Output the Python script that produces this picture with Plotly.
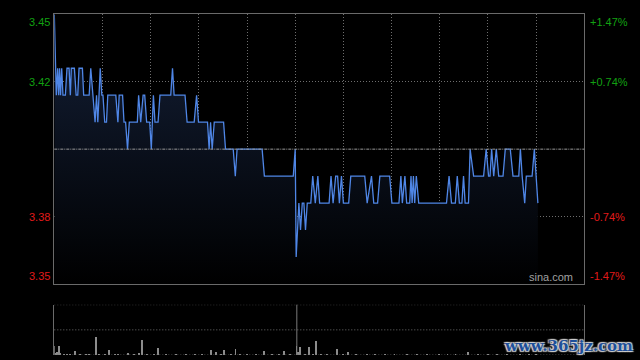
import plotly.graph_objects as go

# ---------------- data ----------------
prev_close = 3.40

# minutes since 09:30 (lunch break removed), intraday price vertices
t_min = [0, 1.25, 2.1, 2.7, 3.3, 3.9, 4.6, 5.4, 6.9, 7.9, 9.2, 10, 10.6, 12.5, 13.6, 14.6,
         15.4, 17.5, 18.3, 21.7, 22.7, 23.9, 25.4, 26.3, 27.1, 28.6, 29.6, 30.3, 31.4, 32.5,
         33.3, 38.3, 39.6, 40.4, 42.5, 43.4, 44.4, 45.6, 46.7, 51.7, 52.5, 53.8, 55.3, 56.3,
         57.5, 59.4, 60.4, 61.7, 62.7, 64.6, 65.8, 72.5, 73.6, 74.6, 81.4, 82.7, 87.1, 88.6,
         89.8, 95.4, 96.4, 97.3, 98.3, 99.6, 105.4, 106.6, 111.4, 112.7, 113.8, 129.4, 130.8,
         148.8, 150,
         150.6, 152.3, 153.3, 154.4, 155.4, 156.4, 157.5, 159.7, 160.9, 162.5, 164.1, 165.2,
         171.1, 172.3, 173.6, 175.2, 176.4, 177.5, 178.8, 180, 183.3, 184.6, 193.3, 194.8,
         197.5, 198.9, 201.3, 202.7, 208.8, 210.2, 214.6, 215.8, 216.7, 218.3, 219.4, 221.3,
         222.1, 222.8, 223.6, 224.4, 225.4, 226.9, 244.2, 245.8, 247.3, 249.7, 250.9, 252.2,
         253.8, 254.8, 255.8, 257.9, 258.9, 261.1, 267.3, 268.9, 270.4, 271.3, 272.3, 273.6,
         275.2, 276.7, 279.4, 280.8, 283.9, 285.6, 289.2, 290.2, 291.3, 292.9, 293.9, 297.5,
         298.9, 301.1]
price = [3.45, 3.42, 3.43, 3.42, 3.43, 3.42, 3.43, 3.42, 3.42, 3.43, 3.43, 3.42, 3.43, 3.43, 3.42, 3.42,
         3.43, 3.43, 3.42, 3.42, 3.43, 3.42, 3.41, 3.42, 3.41, 3.43, 3.42, 3.42, 3.41, 3.41,
         3.42, 3.42, 3.41, 3.42, 3.42, 3.41, 3.41, 3.40, 3.41, 3.41, 3.42, 3.41, 3.42, 3.42,
         3.41, 3.41, 3.40, 3.42, 3.41, 3.41, 3.42, 3.42, 3.43, 3.42, 3.42, 3.41, 3.41, 3.42,
         3.41, 3.41, 3.40, 3.41, 3.40, 3.41, 3.41, 3.40, 3.40, 3.39, 3.40, 3.40, 3.39,
         3.39, 3.40,
         3.36, 3.38, 3.37, 3.38, 3.38, 3.37, 3.38, 3.38, 3.39, 3.38, 3.39, 3.38,
         3.38, 3.39, 3.38, 3.39, 3.39, 3.38, 3.39, 3.38, 3.38, 3.39, 3.39, 3.38,
         3.39, 3.38, 3.38, 3.39, 3.39, 3.38, 3.38, 3.39, 3.38, 3.39, 3.38, 3.38,
         3.39, 3.38, 3.39, 3.38, 3.39, 3.38, 3.38, 3.39, 3.38, 3.38, 3.39, 3.38,
         3.38, 3.39, 3.38, 3.38, 3.40, 3.39, 3.39, 3.40, 3.39, 3.39, 3.40, 3.39,
         3.40, 3.39, 3.39, 3.40, 3.40, 3.39, 3.39, 3.40, 3.39, 3.38, 3.39, 3.39,
         3.40, 3.38]

# volume (relative units) at minutes
vol_t = [0, 1, 2, 3, 4, 6, 8, 10, 13, 16, 20, 22, 26, 28, 32, 34, 38, 40, 46, 50, 53, 55, 58,
         62, 65, 70, 76, 82, 88, 92, 98, 101, 104, 106, 110, 113, 116, 120, 126, 131, 136, 140,
         143, 147, 151, 152, 153, 156, 159, 161, 163, 166, 170, 176, 180, 183, 188, 195, 200,
         206, 212, 220, 226, 232, 240, 245, 250, 258, 264, 270, 276, 282, 290, 296, 300]
vol = [18, 4, 6, 18, 4, 2, 2, 2, 8, 3, 2, 2, 36, 3, 2, 10, 3, 3, 4, 3, 4, 30, 3,
       2, 14, 2, 3, 2, 3, 2, 10, 6, 3, 10, 3, 12, 3, 2, 2, 8, 2, 2,
       8, 2, 18, 6, 16, 3, 16, 3, 28, 3, 2, 12, 2, 6, 2, 2, 2,
       2, 2, 2, 2, 2, 2, 2, 2, 6, 2, 2, 2, 2, 2, 2, 2]

session_minutes = 330
grid_minutes = [30, 60, 90, 120, 150, 180, 210, 240, 270, 300]
lunch_minute = 151

price_ticks = [3.45, 3.425, 3.375, 3.35]
price_labels = ["3.45", "3.42", "3.38", "3.35"]
pct_labels = ["+1.47%", "+0.74%", "-0.74%", "-1.47%"]
label_colors = ["#12a012", "#12a012", "#e01a1a", "#e01a1a"]
label_anchor = ["top", "middle", "middle", "bottom"]

# ---------------- figure ----------------
GRID = "#6e6e6e"
BORDER = "#6a6a6a"
FONT = "Liberation Sans, Arial, sans-serif"

fig = go.Figure()
fig.add_trace(go.Scatter(
    x=t_min, y=price, mode="lines",
    line=dict(color="#4f86e6", width=1.3),
    fill="tozeroy",
    fillgradient=dict(type="vertical", start=3.35, stop=3.45,
                      colorscale=[[0, "rgb(0,0,0)"], [1, "rgb(20,32,56)"]]),
    hoverinfo="skip", xaxis="x", yaxis="y"))

fig.add_trace(go.Bar(
    x=vol_t, y=vol, width=0.6,
    marker=dict(color="#8c8c8c", line=dict(width=0)),
    hoverinfo="skip", xaxis="x2", yaxis="y2"))

xdom = [54.3 / 640, 584.3 / 640]
fig.update_layout(
    width=640, height=360,
    margin=dict(l=0, r=0, t=0, b=0),
    paper_bgcolor="#000000", plot_bgcolor="#000000",
    showlegend=False, bargap=0,
    font=dict(family=FONT, size=11),
    xaxis=dict(domain=xdom, range=[0, session_minutes], tickvals=grid_minutes,
               showticklabels=False, ticks="", showgrid=True, gridcolor=GRID,
               griddash="1px,2px", gridwidth=1, zeroline=False,
               showline=True, linecolor=BORDER, linewidth=1, mirror=True),
    yaxis=dict(domain=[1 - 284 / 360, 1 - 14.3 / 360], range=[3.35, 3.45],
               tickvals=[3.425, 3.375], showticklabels=False, ticks="",
               showgrid=True, gridcolor=GRID, griddash="1px,2px", gridwidth=1,
               zeroline=False, showline=True, linecolor=BORDER, linewidth=1, mirror=True),
    xaxis2=dict(domain=xdom, anchor="y2", range=[0, session_minutes],
                showticklabels=False, ticks="", showgrid=False, zeroline=False,
                showline=False),
    yaxis2=dict(domain=[1 - 355 / 360, 1 - 304.7 / 360], anchor="x2", range=[0, 100],
                showticklabels=False, ticks="", showgrid=False, zeroline=False,
                showline=True, linecolor=BORDER, linewidth=1, mirror=True),
)

# previous close reference line
fig.add_shape(type="line", xref="x domain", yref="y", x0=0, x1=1,
              y0=prev_close, y1=prev_close,
              line=dict(color="#9a9a9a", width=1, dash="3px,1px,1px,1px"))

# volume panel dotted horizontal lines
for yv in [0, 50, 100]:
    fig.add_shape(type="line", xref="x2 domain", yref="y2", x0=0, x1=1, y0=yv, y1=yv,
                  line=dict(color=GRID, width=1, dash="1px,2px"))
# lunch separator
fig.add_shape(type="line", xref="x2", yref="y2 domain", x0=lunch_minute, x1=lunch_minute,
              y0=0, y1=1, line=dict(color="#7a7a7a", width=1))

# axis labels
for v, lab, pct, col, anc in zip(price_ticks, price_labels, pct_labels, label_colors, label_anchor):
    fig.add_annotation(xref="x domain", yref="y", x=0, y=v, text=lab, showarrow=False,
                       xanchor="right", yanchor=anc, xshift=-2,
                       font=dict(color=col, size=11, family=FONT))
    fig.add_annotation(xref="x domain", yref="y", x=1, y=v, text=pct, showarrow=False,
                       xanchor="left", yanchor=anc, xshift=4,
                       font=dict(color=col, size=11, family=FONT))

fig.add_annotation(xref="x domain", yref="y domain", x=1, y=0, text="sina.com",
                   showarrow=False, xanchor="right", yanchor="bottom", xshift=-9, yshift=-1,
                   font=dict(color="#a0a0a0", size=11, family=FONT))

fig.add_annotation(xref="paper", yref="paper", x=0.992, y=0.04, text="<b>www.365jz.com</b>",
                   showarrow=False, xanchor="right", yanchor="middle",
                   font=dict(color="#1d4f9a", size=15, family="DejaVu Serif",
                             shadow="1px 1px 1px #d0d0d0, -1px -1px 1px #d0d0d0, 1px -1px 1px #d0d0d0, -1px 1px 1px #d0d0d0"))

fig.write_html("out.html", config={"displayModeBar": False})
